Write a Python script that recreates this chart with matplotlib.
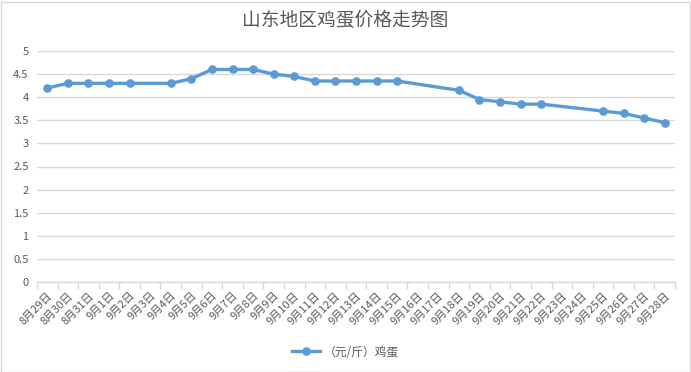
import matplotlib
matplotlib.use("Agg")
import matplotlib.pyplot as plt
from matplotlib.patches import Rectangle
import numpy as np

plt.rcParams['font.family'] = ['Noto Sans CJK SC', 'DejaVu Sans']

categories = ["8月29日", "8月30日", "8月31日"] + [f"9月{d}日" for d in range(1, 29)]
# None = no data for that day (line connects across gaps)
prices = [4.2, 4.3, 4.3, 4.3, 4.3, None, 4.3, 4.4, 4.6, 4.6,
          4.6, 4.5, 4.45, 4.35, 4.35, 4.35, 4.35, 4.35, None, None,
          4.15, 3.95, 3.9, 3.85, 3.85, None, None, 3.7, 3.65, 3.55,
          3.45]
series_name = "（元/斤）鸡蛋"
title = "山东地区鸡蛋价格走势图"
yticks = [0, 0.5, 1, 1.5, 2, 2.5, 3, 3.5, 4, 4.5, 5]

txt = "#595959"
grid = "#d9d9d9"
blue = "#5b9bd5"

fig = plt.figure(figsize=(6.91, 3.72), dpi=100)
ax = fig.add_axes([37/691, 1-282/372, (675-37)/691, (282-51)/372])

xs = [i for i, v in enumerate(prices) if v is not None]
ys = [v for v in prices if v is not None]
ax.plot(xs, ys, color=blue, lw=2.4, marker='o', ms=5.2, mec=blue, mfc=blue,
        label=series_name, solid_joinstyle='round', zorder=3)

ax.set_xlim(-0.5, len(categories) - 0.5)
ax.set_ylim(0, 5)
ax.set_yticks(yticks)
ax.set_yticklabels([f"{t:g}" for t in yticks])
ax.yaxis.grid(True, color=grid, lw=1)
ax.set_axisbelow(True)
for s in ['top', 'right', 'left']:
    ax.spines[s].set_visible(False)
ax.spines['bottom'].set_color(grid)
ax.spines['bottom'].set_linewidth(1)

ax.set_xticks(range(len(categories)))
ax.set_xticklabels(categories, rotation=45, ha='right', va='top',
                   rotation_mode='anchor', fontsize=8, color=txt)
ax.tick_params(axis='x', which='major', length=0, pad=6)
ax.set_xticks(np.arange(-0.5, len(categories), 1), minor=True)
ax.tick_params(axis='x', which='minor', length=5, color=grid, width=1)
ax.tick_params(axis='y', length=0, labelsize=8, labelcolor=txt, pad=6)

fig.text(0.5, 1-20/372, title, ha='center', va='center', fontsize=13.5, color=txt)

leg = fig.legend(loc='center', bbox_to_anchor=(0.5, 1-352/372), frameon=False,
                 fontsize=8.5, labelcolor=txt, handlelength=2.4, handletextpad=0.3)

fig.patches.append(Rectangle((0.5/691, 0.5/372), 689/691, 370/372, transform=fig.transFigure,
                             fill=False, ec=grid, lw=1))

fig.savefig("out.png", dpi=100)
